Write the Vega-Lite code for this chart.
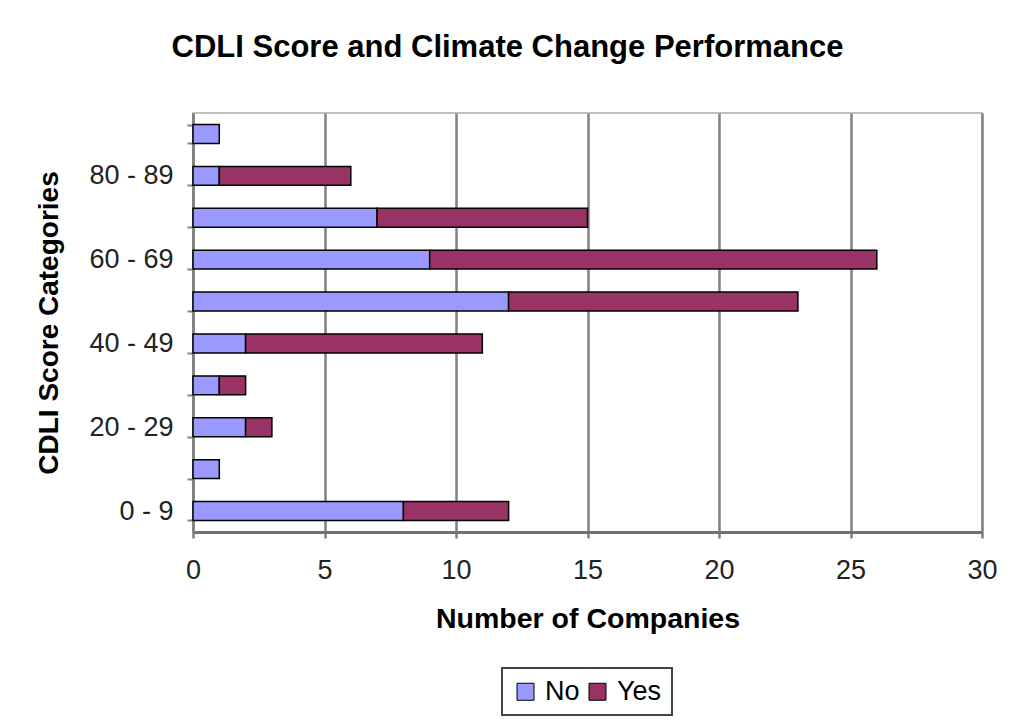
{
  "$schema": "https://vega.github.io/schema/vega-lite/v6.json",
  "autosize": "none",
  "width": 789,
  "height": 419,
  "padding": {"left": 193, "top": 113, "right": 30, "bottom": 190},
  "background": "white",
  "title": {
    "text": "CDLI Score and Climate Change Performance",
    "fontSize": 31,
    "fontWeight": "bold",
    "font": "Liberation Sans",
    "color": "black",
    "anchor": "middle",
    "baseline": "alphabetic",
    "dx": -80,
    "offset": 11
  },
  "data": {
    "values": [
      {"cat": "0 - 9", "resp": "No", "n": 8},
      {"cat": "0 - 9", "resp": "Yes", "n": 4},
      {"cat": "10 - 19", "resp": "No", "n": 1},
      {"cat": "20 - 29", "resp": "No", "n": 2},
      {"cat": "20 - 29", "resp": "Yes", "n": 1},
      {"cat": "30 - 39", "resp": "No", "n": 1},
      {"cat": "30 - 39", "resp": "Yes", "n": 1},
      {"cat": "40 - 49", "resp": "No", "n": 2},
      {"cat": "40 - 49", "resp": "Yes", "n": 9},
      {"cat": "50 - 59", "resp": "No", "n": 12},
      {"cat": "50 - 59", "resp": "Yes", "n": 11},
      {"cat": "60 - 69", "resp": "No", "n": 9},
      {"cat": "60 - 69", "resp": "Yes", "n": 17},
      {"cat": "70 - 79", "resp": "No", "n": 7},
      {"cat": "70 - 79", "resp": "Yes", "n": 8},
      {"cat": "80 - 89", "resp": "No", "n": 1},
      {"cat": "80 - 89", "resp": "Yes", "n": 5},
      {"cat": "90 - 99", "resp": "No", "n": 1}
    ]
  },
  "mark": {"type": "bar", "stroke": "black", "strokeWidth": 1.5, "opacity": 1},
  "encoding": {
    "y": {
      "field": "cat",
      "type": "nominal",
      "sort": ["90 - 99", "80 - 89", "70 - 79", "60 - 69", "50 - 59", "40 - 49", "30 - 39", "20 - 29", "10 - 19", "0 - 9"],
      "scale": {"paddingInner": 0.55, "paddingOuter": 0.275},
      "axis": {
        "title": "CDLI Score Categories",
        "titleFontSize": 28,
        "titleFontWeight": "bold",
        "titleColor": "black",
        "titlePadding": 25,
        "labelExpr": "indexof(['0 - 9','20 - 29','40 - 49','60 - 69','80 - 89'], datum.label) >= 0 ? datum.label : ''",
        "labelFontSize": 27,
        "labelColor": "#222222",
        "labelPadding": 14,
        "domainColor": "#808080",
        "domainWidth": 2.5,
        "ticks": true,
        "tickBand": "extent",
        "tickSize": 6,
        "tickColor": "#808080",
        "tickWidth": 2,
        "grid": false
      }
    },
    "x": {
      "field": "n",
      "type": "quantitative",
      "stack": "zero",
      "scale": {"domain": [0, 30], "nice": false},
      "axis": {
        "values": [0, 5, 10, 15, 20, 25, 30],
        "title": "Number of Companies",
        "titleFontSize": 28.5,
        "titleFontWeight": "bold",
        "titleColor": "black",
        "titlePadding": 21,
        "labelFontSize": 27,
        "labelColor": "#222222",
        "labelPadding": 19,
        "labelFlush": false,
        "grid": true,
        "gridColor": "#808080",
        "gridWidth": 2.5,
        "domainColor": "#707070",
        "domainWidth": 3,
        "tickSize": 6,
        "tickColor": "#808080",
        "tickWidth": 2.5
      }
    },
    "color": {
      "field": "resp",
      "type": "nominal",
      "scale": {"domain": ["No", "Yes"], "range": ["#9999ff", "#993366"]},
      "legend": {
        "title": null,
        "orient": "none",
        "legendX": 309,
        "legendY": 555,
        "direction": "horizontal",
        "symbolType": "square",
        "symbolSize": 289,
        "symbolStrokeColor": "black",
        "symbolStrokeWidth": 1,
        "symbolOpacity": 1,
        "labelFontSize": 27,
        "labelColor": "black",
        "labelOffset": 6,
        "columnPadding": 4,
        "padding": 10,
        "strokeColor": "#444444",
        "encode": {"legend": {"update": {"strokeWidth": {"value": 2}}}}
      }
    },
    "order": {"field": "resp"}
  },
  "config": {
    "font": "Liberation Sans",
    "view": {"stroke": "#c0c0c0", "strokeWidth": 2}
  }
}
